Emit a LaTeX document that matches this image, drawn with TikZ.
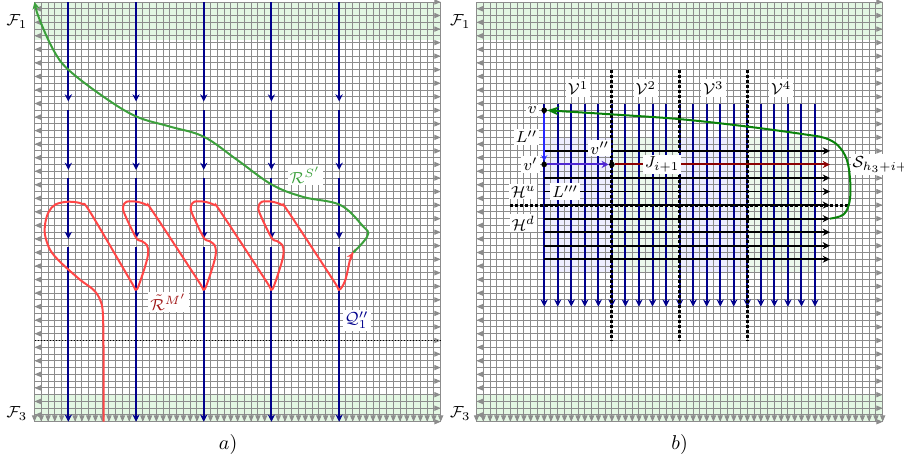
\documentclass[tikz,border=0pt]{standalone}
\usepackage{amsmath,amsfonts,amssymb}
\usepackage{xcolor}
\usepackage{tikz}
\usetikzlibrary{positioning, arrows.meta}

\definecolor{gridgray}{RGB}{140,140,140}
\definecolor{bandgreen}{RGB}{224,246,224}
\definecolor{pathnavy}{RGB}{0,0,140}
\definecolor{rsgreen}{RGB}{60,160,60}
\definecolor{sgreen}{RGB}{10,130,10}
\definecolor{rmred}{RGB}{255,70,70}
\definecolor{lblred}{RGB}{160,20,20}
\definecolor{jred}{RGB}{140,0,0}
\definecolor{lblue}{RGB}{40,40,255}
\definecolor{lpurple}{RGB}{80,40,210}
\definecolor{shadeblue}{RGB}{238,238,255}
\definecolor{shadegreen}{RGB}{236,248,236}

\begin{document}
\begin{tikzpicture}[
    x=0.5pt, y=-0.5pt,
    gridline/.style={draw=gridgray, line width=0.5pt},
    gridtip/.style={draw=gridgray, line width=0.5pt, -{Triangle[length=3.2pt, width=2.6pt]}},
    vpath/.style={draw=pathnavy, line width=1pt, -{Stealth[length=3.6pt, width=3.6pt]}},
    hpath/.style={draw=black, line width=0.9pt, -{Stealth[length=3.6pt, width=3.6pt]}},
    divider/.style={draw=black, line width=1.5pt, dash pattern=on 1.5pt off 1pt},
    lbl/.style={fill=white, inner sep=1pt, font=\footnotesize},
    vdot/.style={circle, fill=black, inner sep=0pt, minimum size=2.8pt}
]
\useasboundingbox (0,0) rectangle (904,466);

% --- SHADED BLOCKS (panel b) ---
\begin{scope}[shift={(238.25pt,-1pt)}, x=3.385pt, y=-3.385pt]
\fill[shadeblue] (10,20) rectangle (20,40);
\fill[shadegreen] (20,20) rectangle (30,40);
\fill[shadeblue] (30,20) rectangle (40,40);
\fill[shadegreen] (40,20) rectangle (50,40);
\end{scope}

% --- WALL GRIDS ---
\foreach \ox in {17.25pt, 238.25pt} {
\begin{scope}[shift={(\ox,-1pt)}, x=3.385pt, y=-3.385pt]
\fill[bandgreen, opacity=0.9] (0,0) rectangle (60,5.6);
\fill[bandgreen, opacity=0.9] (0,57.9) rectangle (60,62);
\foreach \c in {0,...,60} \draw[gridline] (\c,0) -- (\c,62);
\foreach \r in {0,...,62} \draw[gridline] (0,\r) -- (60,\r);
\foreach \r in {1,3,...,61} \draw[gridtip] (1,\r) -- (0,\r);
\foreach \r in {0,2,...,62} \draw[gridtip] (59,\r) -- (60,\r);
\foreach \c in {0,...,60} \draw[gridtip] (\c,61) -- (\c,62);
\end{scope}
}

% --- PANEL a ---
\begin{scope}[shift={(17.25pt,-1pt)}, x=3.385pt, y=-3.385pt]
\draw[black, line width=0.5pt, densely dotted] (0,50) -- (60,50);
\foreach \c in {5,15,25,35,45} {
  \draw[vpath] (\c,0) -- (\c,14.7);
  \draw[vpath] (\c,16) -- (\c,24.8);
  \draw[vpath] (\c,26) -- (\c,35);
  \draw[vpath] (\c,36.2) -- (\c,62);
}
\draw[rmred, line width=1pt, -{Stealth[length=3.6pt, width=3pt]}] plot[smooth, tension=0.55] coordinates {
  (10.2,62) (10.2,52) (10.1,46) (9.7,44) (8.7,42.5) (6.7,41) (3.8,38.4) (2.3,36.6) (1.55,34.4) (1.6,32.6) (2.1,31) (3.1,29.9) (5,29.5) (7,29.8) (8.2,31)
  (14.2,41.2) (15,42.5) (15.6,41.3) (16.5,38.5) (16.8,37) (16.6,35.9) (15.8,35.3) (15,34.8) (13.3,31.3) (13.1,30.2) (13.6,29.5) (15.1,29.5) (16.6,30) (17.5,31)
  (24.2,41.2) (25,42.5) (25.6,41.3) (26.5,38.5) (26.8,37) (26.6,35.9) (25.8,35.3) (25,34.8) (23.3,31.3) (23.1,30.2) (23.6,29.5) (25.1,29.5) (26.6,30) (27.5,31)
  (34.2,41.2) (35,42.5) (35.6,41.3) (36.5,38.5) (36.8,37) (36.6,35.9) (35.8,35.3) (35,34.8) (33.3,31.3) (33.1,30.2) (33.6,29.5) (35.1,29.5) (36.6,30) (37.5,31)
  (44.2,41.2) (45,42.5) (45.9,41.1) (46.6,38.1) (47.1,37)};
\draw[rsgreen, line width=1pt, {Stealth[length=3.6pt, width=3.6pt]}-] plot[smooth, tension=0.6] coordinates {
  (0,0) (0.8,2.7) (2.8,7.1) (5,10) (10.2,14) (15,16.9) (20,18.4) (25,19.9) (29.9,23.3) (35.1,27) (39.7,28.8) (45.2,30) (48.6,33.2) (49.3,34.2) (48.6,35.4) (47.1,37)};
\node[lbl, text=rsgreen] (rs) at (40,25.6) {$\mathcal{R}^{S'}$};
\node[lbl, text=lblred] (rm) at (19.8,44.3) {$\tilde{\mathcal{R}}^{M'}$};
\node[lbl, text=pathnavy] (q1) at (47.6,47) {$\mathcal{Q}_1^{\prime\prime}$};
\node[font=\footnotesize] (f1a) at (-2.6,2.9) {$\mathcal{F}_1$};
\node[font=\footnotesize] (f3a) at (-2.6,60.8) {$\mathcal{F}_3$};
\node (capa) at (28.6,65.4) {$a)$};
\end{scope}

% --- PANEL b ---
\begin{scope}[shift={(238.25pt,-1pt)}, x=3.385pt, y=-3.385pt]
\foreach \c in {10,12,...,50} \draw[vpath] (\c,15) -- (\c,45);
\foreach \r in {22,26,28,30,32,34,36,38} \draw[hpath] (10,\r) -- (52.2,\r);
\draw[divider] (20,10) -- (20,50);
\draw[divider] (30,10) -- (30,50);
\draw[divider] (40,10) -- (40,50);
\draw[divider] (5,30) -- (55,30);

\node[vdot] (v) at (10,16) {};
\node[vdot] (v1) at (10,24) {};
\node[vdot] (v2) at (20,24) {};
\coordinate (jend) at (52.2,24);
\coordinate (sstart) at (52.2,32);
\draw[lblue, line width=1pt, -{Stealth[length=3pt, width=3pt]}] (v) -- (v1);
\draw[lpurple, line width=1pt, -{Stealth[length=3.6pt, width=3.6pt]}] (v1) -- (v2);
\draw[jred, line width=1pt, -{Stealth[length=3.6pt, width=3.6pt]}] (v2) -- (jend);
\draw[sgreen, line width=1pt, -{Stealth[length=6pt, width=4.5pt]}] plot[smooth, tension=0.6] coordinates {
  (sstart) (54.2,31.4) (55.1,29.5) (55.2,26.5) (54.7,23.3) (53.4,21.2) (51.5,20.1) (48.8,19.6) (40,18.4) (30,17.3) (20,16.6) (10.4,16)};

\node[lbl] (vv1) at (15,12.7) {$\mathcal{V}^1$};
\node[lbl] (vv2) at (25,12.7) {$\mathcal{V}^2$};
\node[lbl] (vv3) at (35,12.7) {$\mathcal{V}^3$};
\node[lbl] (vv4) at (45,12.7) {$\mathcal{V}^4$};
\node[lbl, left=1pt of v] (lv) {$v$};
\node[lbl, left=0.5pt of v1] (lv1) {$v'$};
\node[lbl] (lv2) at (18.2,21.6) {$v''$};
\node[lbl] (lj) at (27.4,24) {$J_{i+1}$};
\node[lbl] (ll2) at (7.4,19.9) {$L''$};
\node[lbl] (ll3) at (13.1,28) {$L'''$};
\node[lbl] (hu) at (6.9,28) {$\mathcal{H}^u$};
\node[lbl] (hd) at (6.9,32.7) {$\mathcal{H}^d$};
\node[lbl, anchor=west] (sl) at (55.2,24) {$\mathcal{S}_{h_3+i+1}$};
\node[font=\footnotesize] (f1b) at (-2.4,2.9) {$\mathcal{F}_1$};
\node[font=\footnotesize] (f3b) at (-2.4,60.8) {$\mathcal{F}_3$};
\node (capb) at (30,65.4) {$b)$};
\end{scope}
\end{tikzpicture}
\end{document}
